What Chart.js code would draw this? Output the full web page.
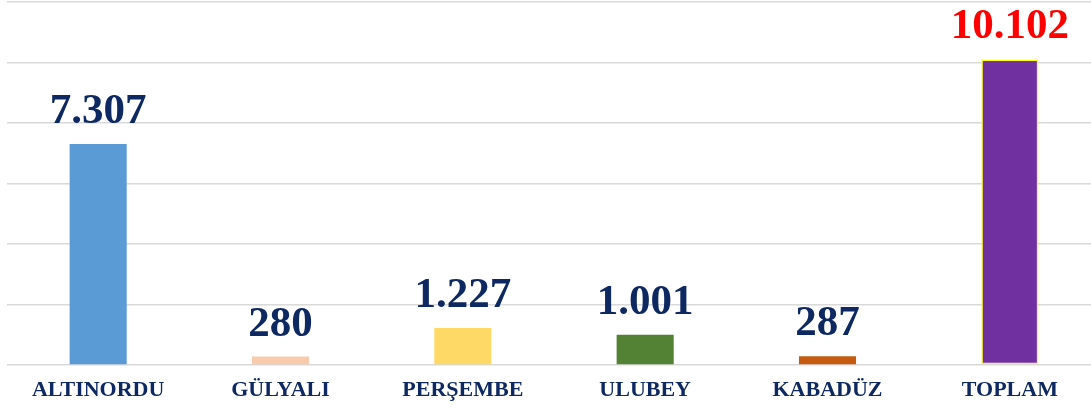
<!DOCTYPE html>
<html lang="tr">
<head>
<meta charset="utf-8">
<title>Nüfus</title>
<script src="https://cdn.jsdelivr.net/npm/chart.js@4/dist/chart.umd.min.js"></script>
<style>
  html, body { margin: 0; padding: 0; background: #fff; overflow: hidden; }
  #wrap { width: 1101px; height: 408px; }
</style>
</head>
<body>
<div id="wrap"><canvas id="barChart" width="1101" height="408"></canvas></div>
<script>
const categories = ['ALTINORDU', 'GÜLYALI', 'PERŞEMBE', 'ULUBEY', 'KABADÜZ', 'TOPLAM'];
const values = [7307, 280, 1227, 1001, 287, 10102];
const barColors = ['#5b9bd5', '#f8cbad', '#ffd966', '#548235', '#c55a11', '#7030a0'];
const labelColors = ['#0e2862', '#0e2862', '#0e2862', '#0e2862', '#0e2862', '#ff0000'];
const labelTexts = ['7.307', '280', '1.227', '1.001', '287', '10.102'];

const NAVY = '#0e2862';
const SERIF = '"Liberation Serif", "Times New Roman", serif';

// value labels above each bar
const valueLabels = {
  id: 'valueLabels',
  afterDatasetsDraw(chart) {
    const ctx = chart.ctx;
    const meta = chart.getDatasetMeta(0);
    ctx.save();
    ctx.font = `bold 43px ${SERIF}`;
    ctx.textAlign = 'center';
    ctx.textBaseline = 'alphabetic';
    meta.data.forEach((bar, i) => {
      ctx.fillStyle = labelColors[i];
      ctx.fillText(labelTexts[i], bar.x, bar.y - 21);
    });
    ctx.restore();
  }
};

new Chart(document.getElementById('barChart'), {
  type: 'bar',
  data: {
    labels: categories,
    datasets: [{
      data: values,
      backgroundColor: barColors,
      borderColor: ['rgba(0,0,0,0)', 'rgba(0,0,0,0)', 'rgba(0,0,0,0)', 'rgba(0,0,0,0)', 'rgba(0,0,0,0)', '#ffff00'],
      borderWidth: [0, 0, 0, 0, 0, 1.5],
      borderSkipped: false,
      barPercentage: 0.313,
      categoryPercentage: 1
    }]
  },
  options: {
    responsive: false,
    animation: false,
    layout: { padding: { left: 7, top: 2, right: 0, bottom: 0 } },
    plugins: {
      legend: { display: false },
      tooltip: { enabled: false }
    },
    scales: {
      x: {
        grid: { display: false, drawTicks: false },
        border: { display: false },
        ticks: {
          color: NAVY,
          padding: 12,
          font: { family: SERIF, size: 22, weight: 'bold' }
        },
        afterFit(scale) { scale.height = 43; }
      },
      y: {
        min: 0,
        max: 12000,
        ticks: { display: false, stepSize: 2000 },
        grid: { color: '#d9d9d9', lineWidth: 1.5, drawTicks: false },
        border: { display: false }
      }
    }
  },
  plugins: [valueLabels]
});
</script>
</body>
</html>
